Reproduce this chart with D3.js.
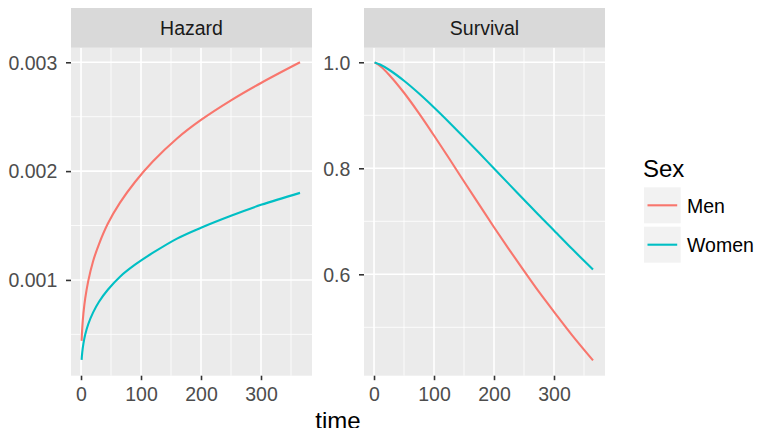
<!DOCTYPE html>
<html>
<head>
<meta charset="utf-8">
<script src="https://cdn.jsdelivr.net/npm/d3@7"></script>
<style>
  body { margin: 0; background: #fff; }
  svg text { font-family: "Liberation Sans", Arial, sans-serif; }
</style>
</head>
<body>
<div id="wrapper"></div>
<script>
// data
let hazardTime = [1, 2, 4, 7, 12, 20, 30, 45, 65, 90, 120, 160, 200, 250, 300, 365];
let hazardMen = [0.00044, 0.000553, 0.000692, 0.00083, 0.000989, 0.00117, 0.00133, 0.00152, 0.00171, 0.0019, 0.00209, 0.0023, 0.00247, 0.00265, 0.00281, 0.003];
let hazardWomen = [0.000265, 0.000332, 0.000415, 0.000498, 0.000593, 0.0007, 0.0008, 0.000912, 0.00103, 0.00114, 0.00125, 0.00138, 0.00148, 0.00159, 0.00169, 0.0018];

let survTime = [1, 10, 25, 50, 75, 100, 125, 150, 175, 200, 225, 250, 275, 300, 330, 365];
let survMen = [0.9997, 0.993, 0.9766, 0.9425, 0.9036, 0.8618, 0.8189, 0.7751, 0.7319, 0.6888, 0.6471, 0.6065, 0.5667, 0.5293, 0.4853, 0.4376];
let survWomen = [0.9998, 0.9958, 0.9859, 0.9651, 0.941, 0.9147, 0.887, 0.8583, 0.8292, 0.7996, 0.7701, 0.7408, 0.7113, 0.6828, 0.648, 0.6091];

let xTicks = [0, 100, 200, 300];
let xMinor = [50, 150, 250, 350];
let hazardTicks = [0.001, 0.002, 0.003];
let hazardMinor = [0.0005, 0.0015, 0.0025];
let survTicks = [0.6, 0.8, 1.0];
let survMinor = [0.5, 0.7, 0.9];

let sexes = ["Men", "Women"];
let colors = {Men: "#F8766D", Women: "#00BFC4"};

const width = 758, height = 428;
const panelTop = 47.7, panelBottom = 375.7, stripTop = 8;

let svg = d3.select("#wrapper")
            .append("svg")
            .attr("width", width)
            .attr("height", height);

let panels = [
  {title: "Hazard", left: 71, right: 312, time: hazardTime,
   series: {Men: hazardMen, Women: hazardWomen},
   yDomain: [0.000120, 0.003134], ticks: hazardTicks, minor: hazardMinor,
   fmt: d3.format(".3f")},
  {title: "Survival", left: 364, right: 605, time: survTime,
   series: {Men: survMen, Women: survWomen},
   yDomain: [0.4087, 1.0275], ticks: survTicks, minor: survMinor,
   fmt: d3.format(".1f")}
];

panels.forEach(p => {
  let xScale = d3.scaleLinear()
                  .domain([-16.7, 385])
                  .range([p.left, p.right]);
  let yScale = d3.scaleLinear()
                  .domain(p.yDomain)
                  .range([panelBottom, panelTop]);

  let g = svg.append("g");

  // panel background
  g.append("rect")
    .attr("x", p.left)
    .attr("y", panelTop)
    .attr("width", p.right - p.left)
    .attr("height", panelBottom - panelTop)
    .attr("fill", "#EBEBEB");

  // minor grid
  g.selectAll(".vminor").data(xMinor).enter().append("line")
    .attr("x1", d => xScale(d)).attr("x2", d => xScale(d))
    .attr("y1", panelTop).attr("y2", panelBottom)
    .attr("stroke", "#fff").attr("stroke-width", 0.8);
  g.selectAll(".hminor").data(p.minor).enter().append("line")
    .attr("y1", d => yScale(d)).attr("y2", d => yScale(d))
    .attr("x1", p.left).attr("x2", p.right)
    .attr("stroke", "#fff").attr("stroke-width", 0.8);

  // major grid
  g.selectAll(".vmajor").data(xTicks).enter().append("line")
    .attr("x1", d => xScale(d)).attr("x2", d => xScale(d))
    .attr("y1", panelTop).attr("y2", panelBottom)
    .attr("stroke", "#fff").attr("stroke-width", 1.6);
  g.selectAll(".hmajor").data(p.ticks).enter().append("line")
    .attr("y1", d => yScale(d)).attr("y2", d => yScale(d))
    .attr("x1", p.left).attr("x2", p.right)
    .attr("stroke", "#fff").attr("stroke-width", 1.6);

  // strip
  g.append("rect")
    .attr("x", p.left)
    .attr("y", stripTop)
    .attr("width", p.right - p.left)
    .attr("height", panelTop - stripTop)
    .attr("fill", "#D9D9D9");
  g.append("text")
    .attr("x", (p.left + p.right) / 2)
    .attr("y", 35)
    .style("text-anchor", "middle")
    .style("font-size", "19.5px")
    .style("fill", "#1A1A1A")
    .text(p.title);

  // lines
  const dMaker = d3.line()
                  .x(d => xScale(d[0]))
                  .y(d => yScale(d[1]))
                  .curve(d3.curveCatmullRom.alpha(0.5));
  sexes.forEach(s => {
    g.append("path")
      .attr("d", dMaker(p.time.map((t, i) => [t, p.series[s][i]])))
      .attr("fill", "none")
      .attr("stroke", colors[s])
      .attr("stroke-width", 2.1);
  });

  // axes
  let xAxisFunction = d3.axisBottom(xScale)
                        .tickValues(xTicks)
                        .tickSize(4.5)
                        .tickPadding(7)
                        .tickFormat(d3.format("d"));
  let xG = g.append("g")
            .attr("transform", `translate(0, ${panelBottom})`)
            .call(xAxisFunction);

  let yAxisFunction = d3.axisLeft(yScale)
                        .tickValues(p.ticks)
                        .tickSize(5)
                        .tickPadding(8.7)
                        .tickFormat(p.fmt);
  let yG = g.append("g")
            .attr("transform", `translate(${p.left}, 0)`)
            .call(yAxisFunction);

  [xG, yG].forEach(a => {
    a.select(".domain").remove();
    a.selectAll(".tick line").attr("stroke", "#333").attr("stroke-width", 1.6);
    a.selectAll(".tick text")
      .style("font-size", "19.5px")
      .style("fill", "#4D4D4D")
      .attr("font-family", null);
  });
  yG.selectAll(".tick text").attr("dy", "0.35em");
});

// x axis title (cut by the bottom edge, as in the reference)
svg.append("text")
  .attr("x", 338)
  .attr("y", 429)
  .style("text-anchor", "middle")
  .style("font-size", "24px")
  .style("fill", "#000")
  .text("time");

// legend
let legend = svg.append("g");
legend.append("text")
  .attr("x", 643)
  .attr("y", 177)
  .style("font-size", "24px")
  .style("fill", "#000")
  .text("Sex");

let keys = legend.selectAll(".key")
                  .data(sexes)
                  .enter()
                  .append("g")
                  .attr("transform", (d, i) => `translate(644, ${187.3 + i * 39.4})`);
keys.append("rect")
  .attr("width", 36.7)
  .attr("height", 36)
  .attr("fill", "#F2F2F2");
keys.append("line")
  .attr("x1", 3.5).attr("x2", 33.2)
  .attr("y1", 18).attr("y2", 18)
  .attr("stroke", d => colors[d])
  .attr("stroke-width", 2.1);
keys.append("text")
  .attr("x", 43)
  .attr("y", 25.5)
  .style("font-size", "19.5px")
  .style("fill", "#000")
  .text(d => d);
</script>
</body>
</html>
